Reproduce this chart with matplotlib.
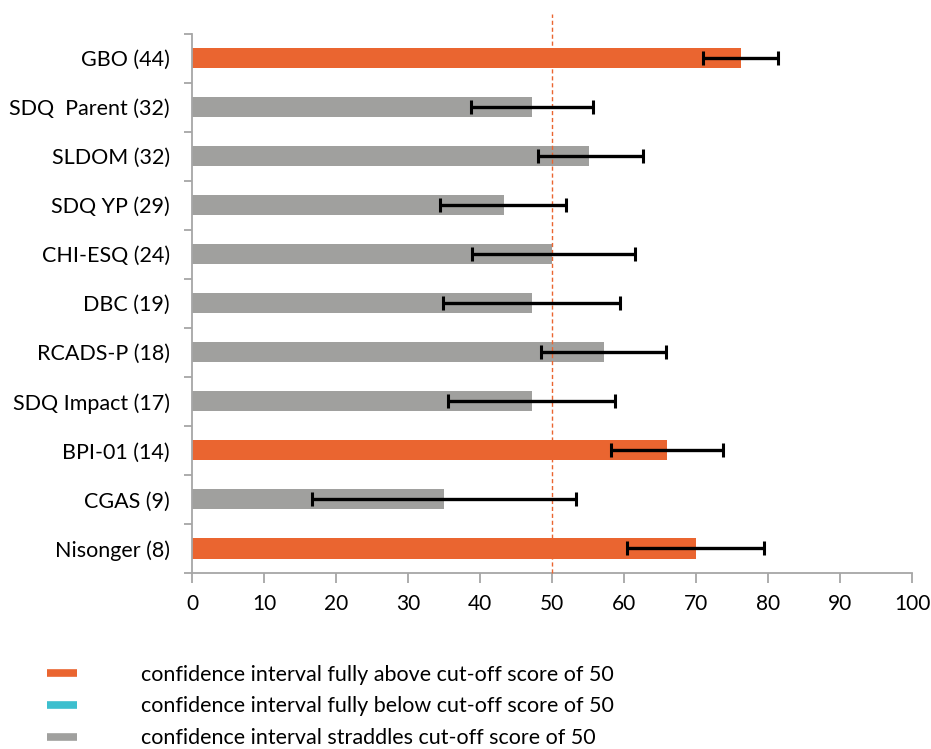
import numpy as np
import matplotlib.pyplot as plt
from matplotlib.lines import Line2D

plt.rcParams['font.family'] = ['Lato', 'DejaVu Sans']

# measures, top to bottom (n in brackets)
measures = ['GBO (44)', 'SDQ  Parent (32)', 'SLDOM (32)', 'SDQ YP (29)', 'CHI-ESQ (24)',
            'DBC (19)', 'RCADS-P (18)', 'SDQ Impact (17)', 'BPI-01 (14)', 'CGAS (9)',
            'Nisonger (8)']
score = [76.2, 47.2, 55.2, 43.3, 50.0, 47.2, 57.2, 47.2, 66.0, 35.0, 70.0]
ci_low = [71.0, 38.7, 48.0, 34.5, 38.9, 34.8, 48.5, 35.5, 58.2, 16.6, 60.4]
ci_high = [81.4, 55.7, 62.6, 51.9, 61.5, 59.5, 65.9, 58.8, 73.8, 53.4, 79.5]

cutoff = 50
orange = '#EA6530'
teal = '#3DBFCE'
grey = '#A0A09E'
axis_col = '#A6A6A6'

score = np.array(score)
ci_low = np.array(ci_low)
ci_high = np.array(ci_high)

# colour each bar by where its confidence interval sits relative to the cut-off
colours = []
for lo, hi in zip(ci_low, ci_high):
    if lo > cutoff:
        colours.append(orange)
    elif hi < cutoff:
        colours.append(teal)
    else:
        colours.append(grey)

fig = plt.figure(figsize=(9.31, 7.49), dpi=100)
ax = fig.add_axes([192/931, 176/749, 720/931, 539.5/749])

y = np.arange(len(measures))[::-1]
ax.barh(y, score, height=0.41, color=colours, zorder=2)
ax.errorbar(score, y, xerr=[score - ci_low, ci_high - score], fmt='none',
            ecolor='black', elinewidth=2.4, capsize=5, capthick=2.2, zorder=4)

# cut-off line
ax.plot([cutoff, cutoff], [-0.5, 10.5 + 0.4], color=orange, lw=1, ls=(0, (3, 2)),
        clip_on=False, zorder=3)

ax.set_xlim(0, 100)
ax.set_ylim(-0.5, 10.5)
ax.set_xticks(np.arange(0, 101, 10))
ax.set_yticks(np.arange(-0.5, 11, 1))
ax.set_yticklabels([])
ax.set_yticks(y, minor=True)
ax.set_yticklabels(measures, minor=True)

for s in ['top', 'right']:
    ax.spines[s].set_visible(False)
for s in ['left', 'bottom']:
    ax.spines[s].set_color(axis_col)
    ax.spines[s].set_linewidth(1.3)

ax.tick_params(axis='x', direction='out', length=7, width=1.3, color=axis_col,
               labelsize=15, pad=8)
ax.tick_params(axis='y', which='major', direction='out', length=6, width=1.3, color=axis_col)
ax.tick_params(axis='y', which='minor', length=0, labelsize=15.5, pad=16)

# legend
handles = [Line2D([], [], color=c, lw=5.5, solid_capstyle='butt') for c in (orange, teal, grey)]
labels = ['confidence interval fully above cut-off score of 50',
          'confidence interval fully below cut-off score of 50',
          'confidence interval straddles cut-off score of 50']
fig.legend(handles, labels, loc='upper left', bbox_to_anchor=(38/931, 1 - 656/749),
           frameon=False, fontsize=15.5, handlelength=1.4, handletextpad=3.0,
           labelspacing=0.55, borderaxespad=0)

fig.savefig('out.png', dpi=100)
